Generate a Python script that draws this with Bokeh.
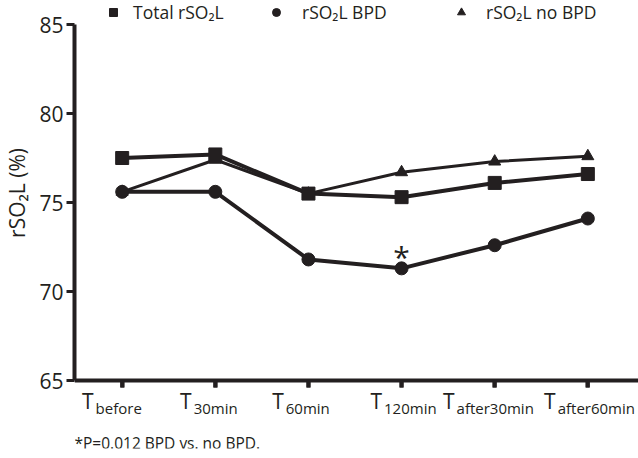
import math
from bokeh.plotting import figure
from bokeh.models import (Range1d, FixedTicker, Label, Legend, LegendItem,
                          Whisker, ColumnDataSource)
from bokeh.embed import file_html
from bokeh.resources import INLINE

# ---- data ----
periods = ["before", "30min", "60min", "120min", "after30min", "after60min"]
total_rso2l = [77.5, 77.7, 75.5, 75.3, 76.1, 76.6]
bpd_rso2l = [75.6, 75.6, 71.8, 71.3, 72.6, 74.1]
no_bpd_rso2l = [75.6, 77.4, 75.5, 76.7, 77.3, 77.6]
y_ticks = [65, 70, 75, 80, 85]
significant_index = 3
footnote = "*P=0.012 BPD vs. no BPD."

# ---- layout / style ----
label_nudge_px = [-10, -9, -10, -1, -6, 2]   # horizontal nudges of tick captions
x = list(range(len(periods)))
INK = "#231f20"
FONT = "Open Sans"

W, H = 638, 458
FRAME_H = H - 10          # frame reaches down to the footnote
PX_PER_UNIT = 17.8
Y0, Y1 = 65, 85
AXIS_Y = 380              # screen row of the x axis (from the top)
y_start = Y0 - (FRAME_H - AXIS_Y) / PX_PER_UNIT
y_end = Y1 + 24 / PX_PER_UNIT

p = figure(width=W, height=H, output_backend="svg", toolbar_location=None,
           x_range=Range1d(-0.512, 5.544), y_range=Range1d(y_start, y_end),
           min_border_left=70, min_border_right=0, min_border_top=0,
           min_border_bottom=H - FRAME_H)
p.outline_line_color = None
p.grid.visible = False
p.background_fill_color = "white"
p.border_fill_color = "white"

# y axis
yax = p.yaxis[0]
yax.ticker = FixedTicker(ticks=y_ticks)
yax.bounds = (Y0, Y1)
yax.axis_line_width = 4
yax.axis_line_color = INK
yax.major_tick_out = 8
yax.major_tick_in = 0
yax.major_tick_line_width = 3
yax.major_tick_line_color = INK
yax.minor_tick_out = 0
yax.minor_tick_in = 0
yax.major_label_text_font = FONT
yax.major_label_text_font_size = "21px"
yax.major_label_text_color = INK
yax.major_label_standoff = 3
# em spaces lift the title so it is centred on the 65-85 span, not the frame
yax.axis_label = "\u2003\u2003\u2003rSO\u2082L (%)"
yax.axis_label_text_font = FONT
yax.axis_label_text_font_size = "21px"
yax.axis_label_text_font_style = "normal"
yax.axis_label_text_color = INK
yax.axis_label_standoff = 5

# x axis, drawn at y = 65 inside the frame
xax = p.xaxis[0]
xax.fixed_location = Y0
xax.ticker = FixedTicker(ticks=x)
xax.major_label_overrides = {i: "" for i in x}
xax.major_label_text_font_size = "1px"
xax.major_label_standoff = 0
xax.axis_line_width = 4
xax.axis_line_color = INK
xax.major_tick_out = 7
xax.major_tick_in = 0
xax.major_tick_line_width = 4
xax.major_tick_line_color = INK
xax.minor_tick_out = 0
xax.minor_tick_in = 0

# tick marks under the x axis (one per time point)
tick_src = ColumnDataSource(dict(x=x))
p.add_layout(Whisker(source=tick_src, base="x", dimension="height",
                     lower=FRAME_H - (AXIS_Y + 7), upper=FRAME_H - AXIS_Y,
                     lower_units="screen", upper_units="screen",
                     lower_head=None, upper_head=None,
                     line_width=4, line_color=INK))

# series
p.line(x, no_bpd_rso2l, line_width=3, color=INK)
r_nb = p.scatter(x, no_bpd_rso2l, marker="triangle", size=12, color=INK)
p.line(x, bpd_rso2l, line_width=4, color=INK)
r_b = p.scatter(x, bpd_rso2l, marker="circle", size=13, color=INK)
p.line(x, total_rso2l, line_width=4, color=INK)
r_t = p.scatter(x, total_rso2l, marker="square", size=13, color=INK)

# legend (three single-item legends across the top)
for rend, label, lx, standoff in [(r_t, "Total rSO\u2082L", 29, 10),
                                  (r_b, "rSO\u2082L BPD", 192, 16),
                                  (r_nb, "rSO\u2082L no BPD", 377, 15)]:
    lg = Legend(items=[LegendItem(label=label, renderers=[rend])],
                location=(lx, FRAME_H - 22 - 2), orientation="horizontal",
                glyph_width=20, glyph_height=22, label_height=22,
                label_standoff=standoff, padding=0, margin=0,
                border_line_color=None, background_fill_alpha=0,
                label_text_font=FONT, label_text_font_size="17.5px",
                label_text_color=INK)
    p.add_layout(lg)

# x tick labels: "T" with subscript (screen y measured from frame bottom)
T_SIZE, SUB_SIZE = 21, 15
for i, sub in enumerate(periods):
    t_w = 0.556 * T_SIZE
    sub_w = 0.52 * SUB_SIZE * len(sub)
    join = label_nudge_px[i] - (t_w + 2 + sub_w) / 2 + t_w
    p.add_layout(Label(x=i, y=FRAME_H - 400.5, y_units="screen", text="T",
                       text_align="right", text_baseline="middle",
                       x_offset=join, text_font=FONT,
                       text_font_size=f"{T_SIZE}px", text_color=INK))
    p.add_layout(Label(x=i, y=FRAME_H - 407, y_units="screen", text=sub,
                       text_align="left", text_baseline="middle",
                       x_offset=join + 2, text_font=FONT,
                       text_font_size=f"{SUB_SIZE}px", text_color=INK))

# significance asterisk
p.add_layout(Label(x=significant_index, y=bpd_rso2l[significant_index],
                   y_offset=12, text="*", text_align="center",
                   text_baseline="middle", text_font=FONT,
                   text_font_size="30px", text_color=INK))

# footnote
p.add_layout(Label(x=0, y=FRAME_H - 442, x_units="screen", y_units="screen",
                   text=footnote, text_align="left", text_baseline="middle",
                   text_font=FONT, text_font_size="15.5px", text_color=INK))

open("out.html", "w").write(file_html(p, INLINE))
